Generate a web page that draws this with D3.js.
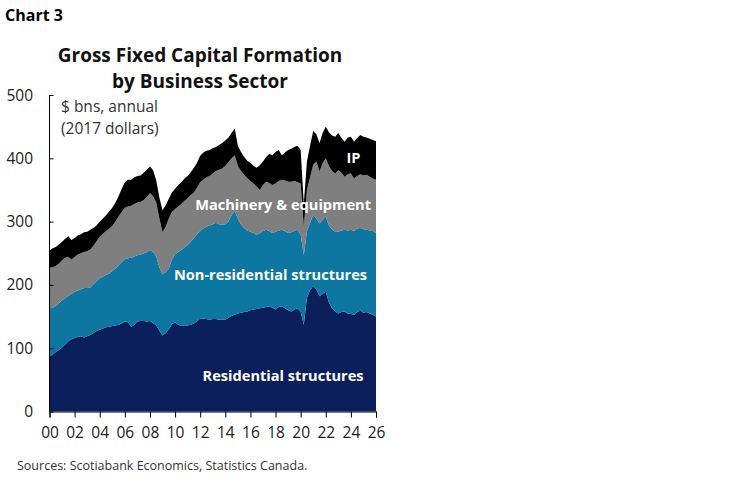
<!DOCTYPE html>
<html>
<head>
<meta charset="utf-8">
<script src="https://cdn.jsdelivr.net/npm/d3@7"></script>
<style>
  body { margin: 0; background: #fff; }
  svg { display: block; font-family: "Open Sans", "Noto Sans", sans-serif; }
</style>
</head>
<body>
<script>
// quarterly observations, 2000Q1 .. 2026Q1 ($ bns, 2017 dollars)
var startYear = 2000;

var residential = [
  87, 90, 94, 97, 101, 106, 111, 114, 116, 118, 119, 117, 119, 121, 124, 127,
  129, 131, 133, 134, 135, 136, 137, 139, 142, 141, 134, 137, 142, 143, 143, 142,
  143, 140, 136, 128, 120, 124, 130, 138, 141, 137, 135, 136, 136, 137, 139, 143,
  147, 147, 146, 145, 146, 146, 145, 145, 145, 148, 151, 153, 155, 156, 157, 158,
  160, 161, 162, 163, 164, 165, 166, 164, 161, 165, 166, 163, 160, 158, 161, 163,
  158, 137, 180, 192, 198, 193, 182, 186, 189, 172, 163, 158, 155, 157, 158, 155,
  154, 153, 157, 159, 156, 157, 155, 153, 150
];
var nonResidential = [
  76, 74, 73, 74, 75, 73, 72, 72, 73, 73, 74, 78, 76, 75, 77, 79,
  82, 82, 83, 84, 87, 90, 94, 97, 99, 101, 109, 108, 105, 105, 107, 110,
  112, 112, 109, 100, 97, 96, 96, 102, 107, 115, 120, 123, 127, 131, 135, 137,
  139, 142, 146, 149, 150, 152, 151, 150, 151, 152, 159, 164, 150, 140, 133, 128,
  124, 121, 117, 119, 121, 122, 119, 118, 123, 121, 121, 122, 122, 125, 124, 124,
  122, 110, 105, 106, 113, 112, 115, 117, 119, 122, 125, 126, 129, 129, 129, 131,
  133, 132, 132, 131, 132, 130, 131, 132, 132
];
var machinery = [
  64, 64, 63, 63, 63, 64, 61, 54, 55, 57, 57, 57, 58, 60, 61, 63,
  65, 68, 69, 71, 71, 74, 77, 79, 81, 82, 82, 83, 83, 83, 84, 87,
  90, 88, 85, 77, 66, 72, 79, 75, 72, 72, 73, 74, 74, 74, 72, 74,
  76, 77, 78, 78, 80, 82, 86, 89, 92, 94, 90, 88, 83, 84, 84, 83,
  80, 78, 76, 68, 73, 76, 76, 76, 76, 78, 79, 80, 81, 80, 79, 75,
  80, 45, 65, 72, 79, 90, 82, 89, 92, 94, 92, 92, 97, 91, 84, 89,
  89, 83, 83, 85, 85, 87, 85, 83, 84
];
var intellectual = [
  27, 30, 30, 30, 29, 30, 33, 31, 30, 30, 30, 31, 31, 31, 28, 25,
  24, 24, 25, 27, 29, 30, 32, 37, 40, 42, 41, 42, 42, 42, 43, 43,
  42, 41, 35, 33, 35, 34, 31, 31, 32, 34, 34, 35, 35, 36, 39, 39,
  42, 43, 42, 41, 40, 38, 39, 40, 40, 39, 40, 42, 32, 30, 28, 27,
  29, 28, 30, 39, 37, 39, 46, 47, 50, 49, 39, 44, 50, 52, 54, 58,
  53, 36, 45, 50, 53, 43, 45, 48, 50, 53, 56, 58, 59, 55, 55, 58,
  58, 58, 60, 62, 61, 59, 60, 61, 61
];

var seriesKeys = ["res", "nonres", "me", "ip"];
var seriesNames = ["Residential structures", "Non-residential structures", "Machinery & equipment", "IP"];
var seriesColors = ["#0b1f5c", "#0d77a1", "#7f7f7f", "#000000"];

var yTicks = [0, 100, 200, 300, 400, 500];
var xTickYears = d3.range(2000, 2027, 2);

var rows = residential.map(function(v, i) {
  return {
    t: startYear + i / 4,
    res: v,
    nonres: nonResidential[i],
    me: machinery[i],
    ip: intellectual[i]
  };
});

var W = 748, H = 483;
var svg = d3.select("body").append("svg")
    .attr("width", W)
    .attr("height", H);

var x = d3.scaleLinear().domain([2000, 2026]).range([49.5, 376]);
var y = d3.scaleLinear().domain([0, 500]).range([411.5, 95]);

var stacked = d3.stack().keys(seriesKeys)(rows);

var area = d3.area()
    .x(function(d) { return x(d.data.t); })
    .y0(function(d) { return y(d[0]); })
    .y1(function(d) { return y(d[1]); });

svg.append("g").selectAll("path")
  .data(stacked)
  .join("path")
    .attr("fill", function(d, i) { return seriesColors[i]; })
    .attr("d", area);

// y axis (ticks point inward)
var yAxis = svg.append("g")
    .attr("transform", "translate(49.5,0)")
    .call(d3.axisRight(y).tickValues(yTicks).tickSize(4).tickFormat(""));
yAxis.select(".domain").attr("stroke", "#000").attr("d", "M0,95V411.5");
yAxis.selectAll(".tick line").attr("stroke", "#000");

svg.append("g").selectAll("text")
  .data(yTicks)
  .join("text")
    .attr("x", 33)
    .attr("y", function(d) { return y(d); })
    .attr("dy", "0.36em")
    .attr("text-anchor", "end")
    .attr("font-size", 15.5)
    .attr("fill", "#222")
    .text(function(d) { return d; });

// x axis
var xAxis = svg.append("g")
    .attr("transform", "translate(0,411.5)")
    .call(d3.axisBottom(x).tickValues(xTickYears).tickSize(6).tickPadding(9)
      .tickFormat(function(d) { return String(d % 100).padStart(2, "0"); }));
xAxis.select(".domain").attr("stroke", "#000");
xAxis.selectAll(".tick line").attr("stroke", "#000");
xAxis.selectAll(".tick text")
    .attr("font-size", 15.5)
    .attr("font-family", "\"Open Sans\", \"Noto Sans\", sans-serif")
    .attr("fill", "#222");

// titles
svg.append("text")
    .attr("x", 5).attr("y", 21)
    .attr("font-size", 16).attr("font-weight", 700)
    .text("Chart 3");

var title = svg.append("text")
    .attr("text-anchor", "middle")
    .attr("font-size", 19).attr("font-weight", 700)
    .attr("fill", "#111");
title.append("tspan").attr("x", 200).attr("y", 62).text("Gross Fixed Capital Formation");
title.append("tspan").attr("x", 200).attr("y", 88).text("by Business Sector");

var unit = svg.append("text").attr("font-size", 15.5).attr("fill", "#333");
unit.append("tspan").attr("x", 61).attr("y", 112).text("$ bns, annual");
unit.append("tspan").attr("x", 61).attr("y", 134).text("(2017 dollars)");

// in-chart series labels (centre positions in data units)
var labelPos = [
  { t: 2018.6, v: 56 },
  { t: 2017.6, v: 216 },
  { t: 2018.6, v: 326 },
  { t: 2024.2, v: 400 }
];
svg.append("g").selectAll("text")
  .data(seriesNames)
  .join("text")
    .attr("x", function(d, i) { return x(labelPos[i].t); })
    .attr("y", function(d, i) { return y(labelPos[i].v); })
    .attr("dy", "0.35em")
    .attr("text-anchor", "middle")
    .attr("font-size", 14.6)
    .attr("font-weight", 700)
    .attr("fill", "#fff")
    .text(function(d) { return d; });

svg.append("text")
    .attr("x", 17).attr("y", 470)
    .attr("font-size", 12.5).attr("fill", "#333")
    .text("Sources: Scotiabank Economics, Statistics Canada.");
</script>
</body>
</html>
